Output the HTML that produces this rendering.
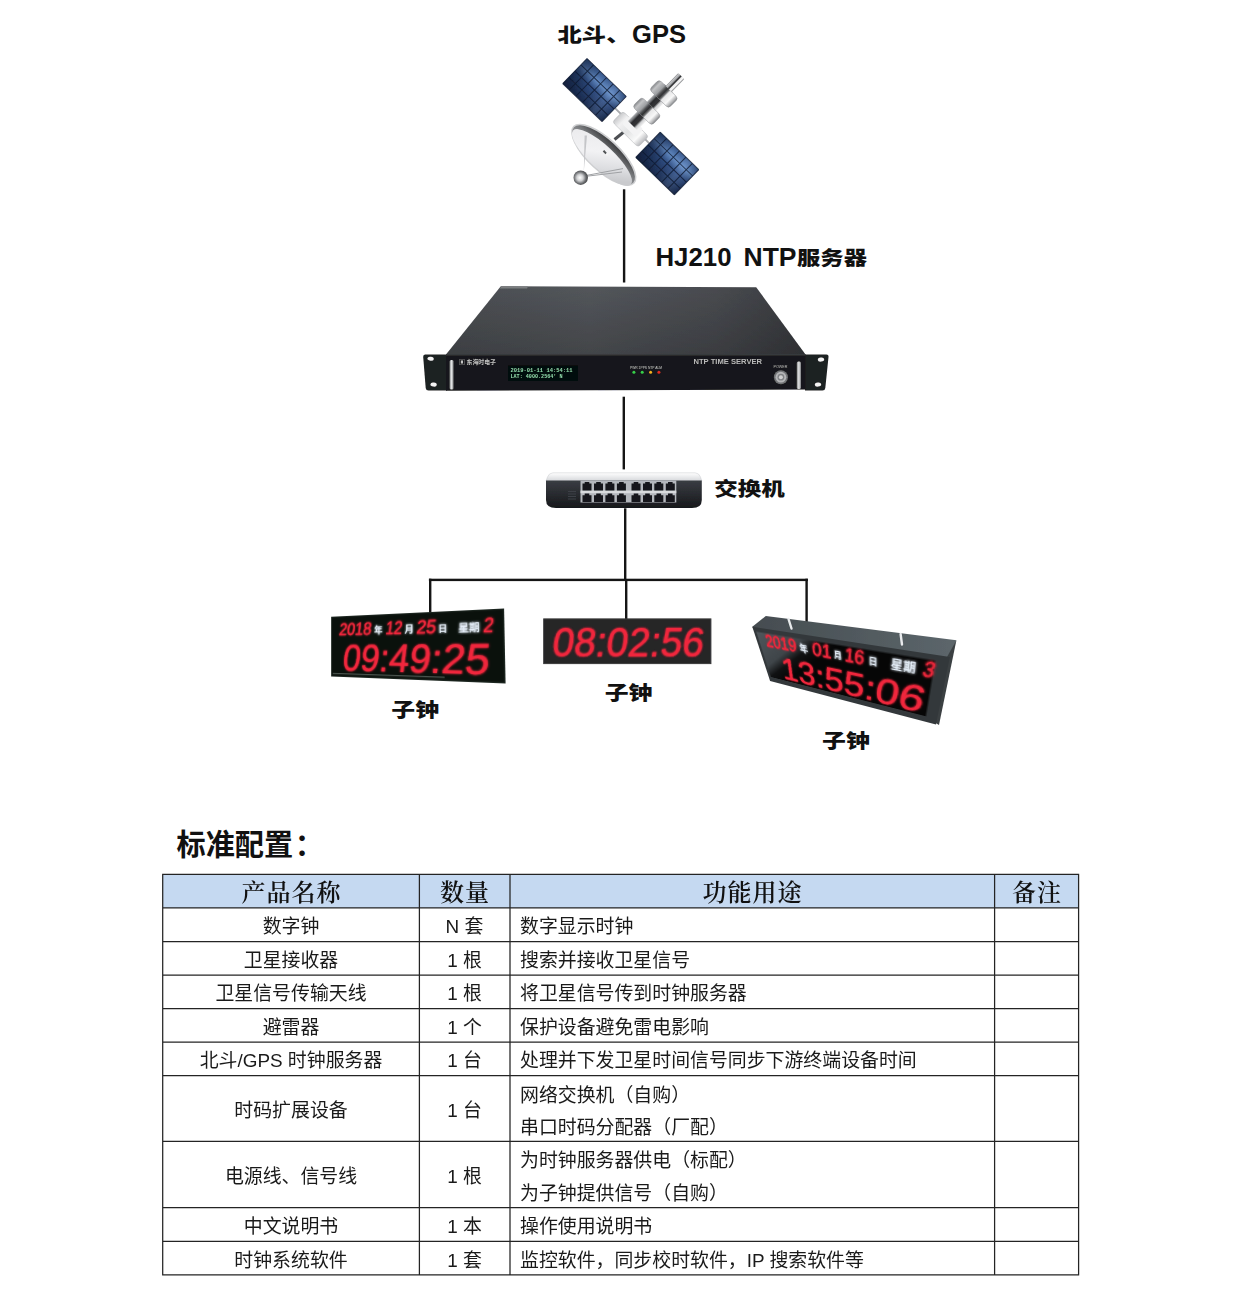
<!DOCTYPE html>
<html lang="zh-CN">
<head>
<meta charset="utf-8">
<title>标准配置</title>
<style>
html,body{margin:0;padding:0;background:#fff;}
body{width:1241px;height:1294px;position:relative;overflow:hidden;font-family:"Liberation Sans","Noto Sans CJK SC",sans-serif;color:#1a1a1a;}
#diagram{position:absolute;left:0;top:0;width:1241px;height:800px;}
.lbl{font-family:"Liberation Sans","Noto Sans CJK SC",sans-serif;font-weight:900;fill:#111;}
h2{position:absolute;left:176.5px;top:824px;margin:0;font-size:29.2px;line-height:42px;font-weight:700;color:#111;letter-spacing:0;white-space:nowrap;}
.pclk{position:absolute;left:0;top:0;transform-origin:0 0;}
.pclk svg{display:block;}
/* table */
#tbl{position:absolute;left:0;top:0;width:1241px;height:1294px;}
.hdbg{position:absolute;left:163px;top:874.5px;width:915.5px;height:33.4px;background:#c5d9f1;}
.th{position:absolute;top:877px;height:33px;line-height:32px;text-align:center;font-family:"Liberation Serif","Noto Serif CJK SC",serif;font-size:24px;letter-spacing:1px;text-indent:1px;color:#111;font-weight:600;}
.c{position:absolute;height:33px;line-height:33px;font-size:18.9px;white-space:nowrap;color:#1a1a1a;}
.c1{left:163px;width:256px;text-align:center;}
.c2{left:420px;width:89px;text-align:center;}
.c3{left:520px;width:470px;text-align:left;}
</style>
</head>
<body>
<svg id="diagram" width="1241" height="800" viewBox="0 0 1241 800">
<defs>
  <linearGradient id="gPanel" x1="0" y1="0" x2="1" y2="1">
    <stop offset="0" stop-color="#1a2c4a"/>
    <stop offset="0.35" stop-color="#2c4878"/>
    <stop offset="0.55" stop-color="#6b93c6"/>
    <stop offset="0.75" stop-color="#2f4e80"/>
    <stop offset="1" stop-color="#16243f"/>
  </linearGradient>
  <linearGradient id="gMetal" x1="0" y1="0" x2="0" y2="1">
    <stop offset="0" stop-color="#8d9094"/>
    <stop offset="0.25" stop-color="#f4f5f6"/>
    <stop offset="0.5" stop-color="#b9bcc0"/>
    <stop offset="0.78" stop-color="#f2f3f4"/>
    <stop offset="1" stop-color="#9fa2a6"/>
  </linearGradient>
  <linearGradient id="gDark" x1="0" y1="0" x2="0" y2="1">
    <stop offset="0" stop-color="#8a8d91"/>
    <stop offset="0.3" stop-color="#2b2d30"/>
    <stop offset="0.6" stop-color="#55585c"/>
    <stop offset="1" stop-color="#cfd1d4"/>
  </linearGradient>
  <linearGradient id="gDish" x1="0" y1="0" x2="1" y2="0">
    <stop offset="0" stop-color="#f3f3f4"/>
    <stop offset="0.6" stop-color="#e1e2e4"/>
    <stop offset="1" stop-color="#c3c5c8"/>
  </linearGradient>
  <linearGradient id="gRim" x1="0" y1="0" x2="0" y2="1">
    <stop offset="0" stop-color="#d9dadc"/>
    <stop offset="0.5" stop-color="#9c9ea2"/>
    <stop offset="1" stop-color="#6f7175"/>
  </linearGradient>
  <radialGradient id="gBall" cx="0.4" cy="0.35" r="0.7">
    <stop offset="0" stop-color="#fafafa"/>
    <stop offset="0.6" stop-color="#b5b7ba"/>
    <stop offset="1" stop-color="#77797d"/>
  </radialGradient>
  <linearGradient id="gTop" x1="0" y1="0" x2="1" y2="0">
    <stop offset="0" stop-color="#4b4e52"/>
    <stop offset="0.4" stop-color="#53565b"/>
    <stop offset="0.75" stop-color="#494b50"/>
    <stop offset="1" stop-color="#393b3f"/>
  </linearGradient>
  <linearGradient id="gTopV" x1="0" y1="0" x2="0" y2="1">
    <stop offset="0" stop-color="#000" stop-opacity="0"/>
    <stop offset="1" stop-color="#000" stop-opacity="0.2"/>
  </linearGradient>
  <linearGradient id="gHandle" x1="0" y1="0" x2="1" y2="0">
    <stop offset="0" stop-color="#8b8d90"/>
    <stop offset="0.5" stop-color="#e6e7e8"/>
    <stop offset="1" stop-color="#77797c"/>
  </linearGradient>
  <linearGradient id="gSwTop" x1="0" y1="0" x2="0" y2="1">
    <stop offset="0" stop-color="#ffffff"/>
    <stop offset="1" stop-color="#d5d7da"/>
  </linearGradient>
  <linearGradient id="gSwFront" x1="0" y1="0" x2="0" y2="1">
    <stop offset="0" stop-color="#3a3d43"/>
    <stop offset="1" stop-color="#17181b"/>
  </linearGradient>
  <linearGradient id="gC3" x1="0" y1="0" x2="1" y2="1">
    <stop offset="0" stop-color="#4a4f52"/>
    <stop offset="0.4" stop-color="#1c1e20"/>
    <stop offset="1" stop-color="#060606"/>
  </linearGradient>
  <filter id="soft" x="-5%" y="-5%" width="110%" height="110%"><feGaussianBlur stdDeviation="0.5"/></filter>
  <filter id="glow" x="-10%" y="-10%" width="120%" height="120%"><feGaussianBlur stdDeviation="0.35"/></filter>
</defs>

<!-- connection lines -->
<g fill="#151515">
  <rect x="622.9" y="189.3" width="2.4" height="93.2"/>
  <rect x="622.6" y="396.7" width="2.4" height="72.7"/>
  <rect x="624" y="508.3" width="2.4" height="72.6"/>
  <rect x="625" y="579" width="2.4" height="41"/>
  <rect x="428.9" y="578.7" width="379" height="2.4"/>
  <rect x="429" y="578.7" width="2.4" height="36.5"/>
  <rect x="805.4" y="578.7" width="2.4" height="43.3"/>
</g>

<!-- labels -->
<g class="lbl">
<text x="557.5" y="41.6" font-size="19.5" textLength="73" lengthAdjust="spacingAndGlyphs">北斗、</text>
<text x="632" y="43" font-size="25.2" textLength="54" lengthAdjust="spacingAndGlyphs">GPS</text>
<text x="655.5" y="266" font-size="25" textLength="76" lengthAdjust="spacingAndGlyphs">HJ210</text>
<text x="743.5" y="266" font-size="25" textLength="53" lengthAdjust="spacingAndGlyphs">NTP</text>
<text x="797" y="264.6" font-size="19.5" textLength="70" lengthAdjust="spacingAndGlyphs">服务器</text>
<text x="714.3" y="496.3" font-size="19.2" textLength="70.5" lengthAdjust="spacingAndGlyphs">交换机</text>
<text x="391.3" y="716.8" font-size="19.5" textLength="47.8" lengthAdjust="spacingAndGlyphs">子钟</text>
<text x="604.7" y="700" font-size="19.5" textLength="47.8" lengthAdjust="spacingAndGlyphs">子钟</text>
<text x="822" y="748" font-size="19.5" textLength="47.8" lengthAdjust="spacingAndGlyphs">子钟</text>
</g>

<defs>
<linearGradient id="gPan1" x1="0" y1="0" x2="0" y2="1"><stop offset="0" stop-color="#38598f"/><stop offset="0.26" stop-color="#668fc8"/><stop offset="0.5" stop-color="#2f4d82"/><stop offset="1" stop-color="#18284a"/></linearGradient>
<linearGradient id="gPanU" x1="0" y1="0" x2="1" y2="0"><stop offset="0" stop-color="#0d1830" stop-opacity="0.6"/><stop offset="0.4" stop-color="#0d1830" stop-opacity="0.05"/><stop offset="0.75" stop-color="#a8c6f0" stop-opacity="0.16"/><stop offset="1" stop-color="#0d1830" stop-opacity="0.3"/></linearGradient>
<linearGradient id="gCyl" x1="0" y1="0" x2="0" y2="1"><stop offset="0" stop-color="#85878a"/><stop offset="0.12" stop-color="#c2c3c5"/><stop offset="0.3" stop-color="#9d9fa2"/><stop offset="0.4" stop-color="#4c4d4f"/><stop offset="0.47" stop-color="#2e2f31"/><stop offset="0.54" stop-color="#6a6b6d"/><stop offset="0.6" stop-color="#e6e6e7"/><stop offset="0.8" stop-color="#f8f8f8"/><stop offset="0.93" stop-color="#b2b3b5"/><stop offset="1" stop-color="#7f8184"/></linearGradient>
<linearGradient id="gCore" x1="0" y1="0" x2="0" y2="1"><stop offset="0" stop-color="#b4b6b9"/><stop offset="0.18" stop-color="#6c6e71"/><stop offset="0.3" stop-color="#2a2b2d"/><stop offset="0.62" stop-color="#343537"/><stop offset="0.78" stop-color="#cfd0d2"/><stop offset="1" stop-color="#f2f2f2"/></linearGradient>
<linearGradient id="gHub" x1="0" y1="0" x2="0" y2="1"><stop offset="0" stop-color="#c9cacc"/><stop offset="0.2" stop-color="#f1f1f2"/><stop offset="0.5" stop-color="#e2e3e4"/><stop offset="0.8" stop-color="#fafafa"/><stop offset="1" stop-color="#b9babd"/></linearGradient>
<linearGradient id="gDishIn" x1="0" y1="0" x2="0" y2="1"><stop offset="0" stop-color="#3e3f41"/><stop offset="0.35" stop-color="#77797c"/><stop offset="1" stop-color="#b9babd"/></linearGradient>
<linearGradient id="gDishSurf" x1="0" y1="0" x2="1" y2="0.4"><stop offset="0" stop-color="#e9e9eb"/><stop offset="0.5" stop-color="#f2f2f4"/><stop offset="0.8" stop-color="#dcdde0"/><stop offset="1" stop-color="#c9cacd"/></linearGradient>
<radialGradient id="gBall2" cx="0.45" cy="0.5" r="0.55"><stop offset="0" stop-color="#ffffff"/><stop offset="0.4" stop-color="#d0d1d3"/><stop offset="0.75" stop-color="#6d6f72"/><stop offset="1" stop-color="#444547"/></radialGradient>
</defs>
<g id="sat" filter="url(#soft)">
<path d="M615 108.2L624.5 117.5M649 143.2L640 134" stroke="#a9abae" stroke-width="1.8" fill="none"/>
<g transform="translate(587.0,58.5) rotate(44.04)"><rect x="0" y="0" width="54.7" height="34.9" fill="url(#gPan1)"/><rect x="0" y="0" width="54.7" height="34.9" fill="url(#gPanU)"/><path d="M0.00 0V34.93M9.11 0V34.93M18.22 0V34.93M27.33 0V34.93M36.44 0V34.93M45.56 0V34.93M54.67 0V34.93M0 0.00H54.67M0 8.73H54.67M0 17.47H54.67M0 26.20H54.67M0 34.93H54.67" stroke="#0e1930" stroke-width="1" fill="none" opacity="0.8"/></g>
<g transform="translate(660.2,132.2) rotate(44.17)"><rect x="0" y="0" width="53.8" height="35.1" fill="url(#gPan1)"/><rect x="0" y="0" width="53.8" height="35.1" fill="url(#gPanU)"/><path d="M0.00 0V35.07M8.97 0V35.07M17.94 0V35.07M26.91 0V35.07M35.88 0V35.07M44.85 0V35.07M53.82 0V35.07M0 0.00H53.82M0 8.77H53.82M0 17.54H53.82M0 26.30H53.82M0 35.07H53.82" stroke="#0e1930" stroke-width="1" fill="none" opacity="0.8"/></g>
<path d="M614.5 139.5L625 131" stroke="#4e5053" stroke-width="3" fill="none"/>
<g transform="translate(603.8,154.8) rotate(43.1)">
<ellipse cx="0" cy="0" rx="42" ry="16.5" fill="#cfd0d2"/>
<ellipse cx="0" cy="0.3" rx="40.6" ry="15" fill="url(#gDishIn)"/>
<ellipse cx="0.5" cy="3.2" rx="39.6" ry="12" fill="url(#gDishSurf)"/>
</g>
<path d="M583.8 171.5L584.6 135.5L587 135.5Z" fill="#c4c5c8"/>
<path d="M587 175.3L623 168.6M587 176.2L622 172" stroke="#9fa1a4" stroke-width="1" fill="none"/>
<path d="M603.5 150.8L606.2 153.6" stroke="#505254" stroke-width="2" fill="none"/>
<path d="M606.2 153.6L607.8 155.2" stroke="#f4f4f4" stroke-width="2" fill="none"/>
<circle cx="580.7" cy="177.7" r="7.2" fill="url(#gBall2)"/>
<g transform="translate(629.8,128.5) rotate(-45.5)">
<rect x="-7.5" y="-17" width="15" height="36" rx="3" fill="url(#gHub)" stroke="#b4b6b9" stroke-width="0.5"/>
<rect x="-2" y="-9" width="11" height="19" rx="2" fill="#f3f3f4"/>
<rect x="4" y="-6.5" width="52" height="13" fill="url(#gCore)"/>
<rect x="17.5" y="-13.5" width="13.5" height="27" rx="3.5" fill="url(#gCyl)" stroke="#8e9093" stroke-width="0.5"/>
<rect x="41.5" y="-13.5" width="14" height="27" rx="3.5" fill="url(#gCyl)" stroke="#8e9093" stroke-width="0.5"/>
<rect x="55.5" y="-4.2" width="18" height="8.4" rx="1" fill="url(#gCyl)"/>
</g>
</g>
<g id="server" filter="url(#soft)">
  <!-- top face -->
  <polygon points="500.8,286.3 756.2,287.2 805.5,354.6 446,354.6" fill="url(#gTop)"/>
  <polygon points="500.8,286.3 756.2,287.2 805.5,354.6 446,354.6" fill="url(#gTopV)"/>
  <polygon points="501.5,286.3 528,286.4 527,288.6 499.8,288.5" fill="#7b7e80"/>
  <!-- ears -->
  <path d="M425 354.5H447V390.5H428.5Q426 390.5 425.7 388L423.2 357Q423 354.5 425 354.5Z" fill="#1f2022"/>
  <path d="M805 354.5H826.5Q828.8 354.5 828.5 357L825.3 388Q825 390.5 822.5 390.5H805Z" fill="#1f2022"/>
  <!-- front panel -->
  <polygon points="446,354.3 805.5,354.3 805.5,389.6 446,390.8" fill="#19191b"/>
  <rect x="446" y="354.3" width="359.5" height="1.2" fill="#3a3c3e"/>
  <!-- ear holes -->
  <ellipse cx="430.6" cy="358.8" rx="3.2" ry="2" fill="#f4f4f4" transform="rotate(8 430.6 358.8)"/>
  <ellipse cx="433.6" cy="384.6" rx="3.2" ry="2" fill="#f4f4f4" transform="rotate(8 433.6 384.6)"/>
  <ellipse cx="821" cy="359.6" rx="3.2" ry="2" fill="#f4f4f4" transform="rotate(-8 821 359.6)"/>
  <ellipse cx="818" cy="384.6" rx="3.2" ry="2" fill="#f4f4f4" transform="rotate(-8 818 384.6)"/>
  <!-- handles -->
  <rect x="449.6" y="360" width="4" height="29.5" rx="1.5" fill="url(#gHandle)"/>
  <rect x="796.8" y="361.5" width="4.2" height="27.5" rx="1.5" fill="url(#gHandle)"/>
  <!-- logo text -->
  <text x="459" y="363.6" font-family="'Liberation Sans','Noto Sans CJK SC',sans-serif" font-weight="700" font-size="6" fill="#c4c4c4" textLength="37" lengthAdjust="spacingAndGlyphs">▣ 东海时电子</text>
  <!-- lcd -->
  <rect x="508" y="365.2" width="70" height="15.8" fill="#050807"/>
  <text x="510.5" y="371.8" font-family="'Liberation Mono',monospace" font-weight="700" font-size="5.6" fill="#8fe0b0" textLength="62" lengthAdjust="spacingAndGlyphs">2019-01-11 14:54:11</text>
  <text x="510.5" y="378.2" font-family="'Liberation Mono',monospace" font-weight="700" font-size="5.6" fill="#8fe0b0" textLength="52" lengthAdjust="spacingAndGlyphs">LAT: 4000.2564' N</text>
  <!-- leds -->
  <text x="630" y="368.8" font-family="'Liberation Sans',sans-serif" font-size="3.2" fill="#cfd0d0" textLength="32" lengthAdjust="spacingAndGlyphs">PWR 1PPS NTP ALM</text>
  <circle cx="633.9" cy="372.2" r="1.5" fill="#35d04a"/>
  <circle cx="642.2" cy="372.2" r="1.5" fill="#35d04a"/>
  <circle cx="650.6" cy="372.2" r="1.5" fill="#f5b21a"/>
  <circle cx="658.9" cy="372.2" r="1.5" fill="#e02b20"/>
  <!-- title -->
  <text x="693.5" y="363.8" font-family="'Liberation Sans',sans-serif" font-weight="700" font-size="6.6" fill="#b9b9b9" textLength="68.5" lengthAdjust="spacingAndGlyphs">NTP  TIME  SERVER</text>
  <!-- button -->
  <text x="773.5" y="367.6" font-family="'Liberation Sans',sans-serif" font-size="3" fill="#bdbdbd" textLength="14" lengthAdjust="spacingAndGlyphs">POWER</text>
  <circle cx="780.9" cy="377.2" r="7" fill="#727477"/>
  <circle cx="780.9" cy="377.2" r="5.4" fill="#b4b5b7"/>
  <circle cx="780.9" cy="377.2" r="3.4" fill="#808285"/>
  <circle cx="780.9" cy="377.2" r="2" fill="#cfcfd0"/>
</g>

<g id="switch" filter="url(#soft)">
<path d="M553 472.8H695Q699 473 700.5 477L701.8 481H546L547.5 477Q549 473 553 472.8Z" fill="url(#gSwTop)" stroke="#c9cbce" stroke-width="0.5"/>
<path d="M546 480.5H701.8V500Q701.8 508 692 508H556Q546 508 546 500Z" fill="url(#gSwFront)"/>
<rect x="580.5" y="480.5" width="95.8" height="22" fill="#b4b7bd"/>
<rect x="580.5" y="490.6" width="95.8" height="2.6" fill="#d9dbde"/>
<path d="M582.5 483.6h2.2v-1.6h4.6v1.6h2.2v6.8h-9z" fill="#15171a"/>
<path d="M582.5 495.2h2.2v-1.6h4.6v1.6h2.2v6.8h-9z" fill="#15171a"/>
<path d="M594.0 483.6h2.2v-1.6h4.6v1.6h2.2v6.8h-9z" fill="#15171a"/>
<path d="M594.0 495.2h2.2v-1.6h4.6v1.6h2.2v6.8h-9z" fill="#15171a"/>
<path d="M605.4 483.6h2.2v-1.6h4.6v1.6h2.2v6.8h-9z" fill="#15171a"/>
<path d="M605.4 495.2h2.2v-1.6h4.6v1.6h2.2v6.8h-9z" fill="#15171a"/>
<path d="M616.9 483.6h2.2v-1.6h4.6v1.6h2.2v6.8h-9z" fill="#15171a"/>
<path d="M616.9 495.2h2.2v-1.6h4.6v1.6h2.2v6.8h-9z" fill="#15171a"/>
<path d="M631.5 483.6h2.2v-1.6h4.6v1.6h2.2v6.8h-9z" fill="#15171a"/>
<path d="M631.5 495.2h2.2v-1.6h4.6v1.6h2.2v6.8h-9z" fill="#15171a"/>
<path d="M643.0 483.6h2.2v-1.6h4.6v1.6h2.2v6.8h-9z" fill="#15171a"/>
<path d="M643.0 495.2h2.2v-1.6h4.6v1.6h2.2v6.8h-9z" fill="#15171a"/>
<path d="M654.3 483.6h2.2v-1.6h4.6v1.6h2.2v6.8h-9z" fill="#15171a"/>
<path d="M654.3 495.2h2.2v-1.6h4.6v1.6h2.2v6.8h-9z" fill="#15171a"/>
<path d="M665.8 483.6h2.2v-1.6h4.6v1.6h2.2v6.8h-9z" fill="#15171a"/>
<path d="M665.8 495.2h2.2v-1.6h4.6v1.6h2.2v6.8h-9z" fill="#15171a"/>
<path d="M568 491.5h8M568 494h8M568 496.5h8M568 499h8" stroke="#3d4046" stroke-width="1"/>
</g>
<defs><filter id="rg2" x="-10%" y="-20%" width="120%" height="140%"><feGaussianBlur in="SourceGraphic" stdDeviation="1.1" result="b"/><feMerge><feMergeNode in="b"/><feMergeNode in="SourceGraphic"/></feMerge></filter><linearGradient id="gC3top" x1="0" y1="0" x2="1" y2="0"><stop offset="0" stop-color="#454c50"/><stop offset="1" stop-color="#5c666b"/></linearGradient></defs>
<g id="clock2" filter="url(#soft)">
<rect x="543.7" y="618.9" width="167.2" height="44.7" fill="#252526"/>
<rect x="543.7" y="618.9" width="167.2" height="44.7" fill="none" stroke="#3a3a3b" stroke-width="1"/>
<g transform="translate(92.19,0) skewX(-8)"><text x="551" y="656.5" font-family="'Liberation Sans',sans-serif" font-size="43" fill="#f0283c" stroke="#f0283c" stroke-width="0.2" filter="url(#rg2)" textLength="151.5" lengthAdjust="spacingAndGlyphs">08:02:56</text></g>
</g>
<g id="clock3body" filter="url(#soft)">
<polygon points="752.3,626.8 765.8,616.1 956.4,640.3 950,657 948,660 754,630" fill="url(#gC3top)"/>
<polygon points="947,657 956.4,640.3 939,725 934,722" fill="#3b4043"/>
<path d="M788.5 619L791.5 628.5M900.6 634L902 644.5" stroke="#e8eaec" stroke-width="2.4" stroke-linecap="round"/>
</g>

</svg>

<!--PCLK-->
<div class="pclk" style="width:174px;height:64px;transform:matrix3d(0.405064,-0.759370,0,-0.00116879,-0.035427,0.860429,0,-0.00010700,0,0,1,0,331.1000,616.8000,0,1)">
<svg width="174" height="64" viewBox="0 0 174 64"><defs><filter id="rg0" x="-10%" y="-20%" width="120%" height="140%"><feGaussianBlur in="SourceGraphic" stdDeviation="1.1" result="b"/><feMerge><feMergeNode in="b"/><feMergeNode in="SourceGraphic"/></feMerge></filter></defs>
<rect x="0" y="0" width="174" height="64" fill="#0a110c"/>
<rect x="0.6" y="0.6" width="172.8" height="62.8" fill="none" stroke="#1c2620" stroke-width="1.2"/>
<rect x="2" y="60.2" width="120" height="1" fill="#6f7a73" opacity="0.8"/>
<g filter="url(#rg0)"><g transform="translate(2.81,0) skewX(-8)"><text x="9.6" y="20.0" font-family="'Liberation Sans','Noto Sans CJK SC',sans-serif" font-size="18.0" fill="#f0283c" stroke="#f0283c" stroke-width="0.35" font-weight="400" textLength="37.8" lengthAdjust="spacingAndGlyphs">2018</text></g>
<text x="50.9" y="18.6" font-family="'Liberation Sans','Noto Sans CJK SC',sans-serif" font-size="9.4" fill="#e4edf7" font-weight="700">年</text>
<g transform="translate(2.81,0) skewX(-8)"><text x="63.0" y="20.0" font-family="'Liberation Sans','Noto Sans CJK SC',sans-serif" font-size="18.0" fill="#f0283c" stroke="#f0283c" stroke-width="0.35" font-weight="400" textLength="17.6" lengthAdjust="spacingAndGlyphs">12</text></g>
<text x="83.6" y="18.6" font-family="'Liberation Sans','Noto Sans CJK SC',sans-serif" font-size="9.4" fill="#e4edf7" font-weight="700">月</text>
<g transform="translate(2.81,0) skewX(-8)"><text x="95.1" y="20.0" font-family="'Liberation Sans','Noto Sans CJK SC',sans-serif" font-size="18.0" fill="#f0283c" stroke="#f0283c" stroke-width="0.35" font-weight="400" textLength="18.8" lengthAdjust="spacingAndGlyphs">25</text></g>
<text x="116.6" y="18.6" font-family="'Liberation Sans','Noto Sans CJK SC',sans-serif" font-size="8.6" fill="#e4edf7" font-weight="700">日</text>
<text x="134.9" y="18.6" font-family="'Liberation Sans','Noto Sans CJK SC',sans-serif" font-size="9.6" fill="#e4edf7" font-weight="700" textLength="18.8" lengthAdjust="spacingAndGlyphs">星期</text>
<g transform="translate(2.81,0) skewX(-8)"><text x="156.2" y="20.0" font-family="'Liberation Sans','Noto Sans CJK SC',sans-serif" font-size="18.0" fill="#f0283c" stroke="#f0283c" stroke-width="0.35" font-weight="400" textLength="8.4" lengthAdjust="spacingAndGlyphs">2</text></g>
<g transform="translate(8.01,0) skewX(-8)"><text x="13.2" y="57.0" font-family="'Liberation Sans','Noto Sans CJK SC',sans-serif" font-size="38.4" fill="#f0283c" stroke="#f0283c" stroke-width="0.2" font-weight="400" textLength="147.0" lengthAdjust="spacingAndGlyphs">09:49:25</text></g></g>
</svg></div>
<div class="pclk" style="width:190px;height:62px;transform:matrix3d(-0.487819,-0.898024,0,-0.00160878,2.347572,2.694393,0,0.00267559,0,0,1,0,752.3000,626.8000,0,1)">
<svg width="190" height="62" viewBox="0 0 190 62"><defs><filter id="rg1" x="-10%" y="-20%" width="120%" height="140%"><feGaussianBlur in="SourceGraphic" stdDeviation="1.1" result="b"/><feMerge><feMergeNode in="b"/><feMergeNode in="SourceGraphic"/></feMerge></filter></defs>
<defs><linearGradient id="gRef" gradientUnits="userSpaceOnUse" x1="0" y1="0" x2="33.7" y2="49.7"><stop offset="0" stop-color="#535a5f"/><stop offset="0.62" stop-color="#3f4549"/><stop offset="0.8" stop-color="#101112"/><stop offset="1" stop-color="#060606"/></linearGradient></defs>
<rect x="0" y="0" width="190" height="62" fill="#33383b"/>
<rect x="3.5" y="4.5" width="177" height="51.5" fill="url(#gRef)"/>
<g filter="url(#rg1)"><g transform="translate(2.57,0) skewX(-8)"><text x="12.2" y="18.3" font-family="'Liberation Sans','Noto Sans CJK SC',sans-serif" font-size="17.9" fill="#f0283c" stroke="#f0283c" stroke-width="0.35" font-weight="400" textLength="39.1" lengthAdjust="spacingAndGlyphs">2019</text></g>
<text x="55.7" y="17.0" font-family="'Liberation Sans','Noto Sans CJK SC',sans-serif" font-size="9.6" fill="#e4edf7" font-weight="700">年</text>
<g transform="translate(2.57,0) skewX(-8)"><text x="69.6" y="18.3" font-family="'Liberation Sans','Noto Sans CJK SC',sans-serif" font-size="17.9" fill="#f0283c" stroke="#f0283c" stroke-width="0.35" font-weight="400" textLength="21.1" lengthAdjust="spacingAndGlyphs">01</text></g>
<text x="93.6" y="17.0" font-family="'Liberation Sans','Noto Sans CJK SC',sans-serif" font-size="8.4" fill="#e4edf7" font-weight="700">月</text>
<g transform="translate(2.57,0) skewX(-8)"><text x="104.0" y="18.3" font-family="'Liberation Sans','Noto Sans CJK SC',sans-serif" font-size="17.9" fill="#f0283c" stroke="#f0283c" stroke-width="0.35" font-weight="400" textLength="18.8" lengthAdjust="spacingAndGlyphs">16</text></g>
<text x="127.4" y="17.0" font-family="'Liberation Sans','Noto Sans CJK SC',sans-serif" font-size="8.0" fill="#e4edf7" font-weight="700">日</text>
<text x="147.1" y="17.0" font-family="'Liberation Sans','Noto Sans CJK SC',sans-serif" font-size="10.0" fill="#e4edf7" font-weight="700" textLength="20.2" lengthAdjust="spacingAndGlyphs">星期</text>
<g transform="translate(2.57,0) skewX(-8)"><text x="172.3" y="18.3" font-family="'Liberation Sans','Noto Sans CJK SC',sans-serif" font-size="17.9" fill="#f0283c" stroke="#f0283c" stroke-width="0.35" font-weight="400" textLength="8.4" lengthAdjust="spacingAndGlyphs">3</text></g>
<g transform="translate(7.52,0) skewX(-8)"><text x="23.0" y="53.5" font-family="'Liberation Sans','Noto Sans CJK SC',sans-serif" font-size="37.0" fill="#f0283c" stroke="#f0283c" stroke-width="0.2" font-weight="400" textLength="152.7" lengthAdjust="spacingAndGlyphs">13:55:06</text></g></g>
</svg></div>
<!--/PCLK-->

<h2>标准配置<span style="margin-left:1.5px">：</span></h2>

<div id="tbl">
<div class="hdbg"></div>
<svg id="grid" width="1241" height="1294" viewBox="0 0 1241 1294" style="position:absolute;left:0;top:0"><path d="M162.1 874.4H1079.2M162.1 907.9H1079.2M162.1 941.5H1079.2M162.1 975.1H1079.2M162.1 1008.6H1079.2M162.1 1042.2H1079.2M162.1 1075.7H1079.2M162.1 1141.4H1079.2M162.1 1207.5H1079.2M162.1 1241.4H1079.2M162.1 1274.9H1079.2M162.7 874.4V1274.9M419.4 874.4V1274.9M510.0 874.4V1274.9M994.6 874.4V1274.9M1078.6 874.4V1274.9" stroke="#242424" stroke-width="1.25" fill="none"/></svg>

<div class="th" style="left:163px;width:256px">产品名称</div>
<div class="th" style="left:420px;width:89px">数量</div>
<div class="th" style="left:510px;width:484px">功能用途</div>
<div class="th" style="left:995px;width:83px">备注</div>

<div class="c c1" style="top:910.2px">数字钟</div>
<div class="c c2" style="top:910.2px">N 套</div>
<div class="c c3" style="top:910.2px">数字显示时钟</div>

<div class="c c1" style="top:943.6px">卫星接收器</div>
<div class="c c2" style="top:943.6px">1 根</div>
<div class="c c3" style="top:943.6px">搜索并接收卫星信号</div>

<div class="c c1" style="top:977.2px">卫星信号传输天线</div>
<div class="c c2" style="top:977.2px">1 根</div>
<div class="c c3" style="top:977.2px">将卫星信号传到时钟服务器</div>

<div class="c c1" style="top:1010.5px">避雷器</div>
<div class="c c2" style="top:1010.5px">1 个</div>
<div class="c c3" style="top:1010.5px">保护设备避免雷电影响</div>

<div class="c c1" style="top:1044.2px">北斗/GPS 时钟服务器</div>
<div class="c c2" style="top:1044.2px">1 台</div>
<div class="c c3" style="top:1044.2px">处理并下发卫星时间信号同步下游终端设备时间</div>

<div class="c c1" style="top:1094px">时码扩展设备</div>
<div class="c c2" style="top:1094px">1 台</div>
<div class="c c3" style="top:1078.6px">网络交换机（自购）</div>
<div class="c c3" style="top:1111.1px">串口时码分配器（厂配）</div>

<div class="c c1" style="top:1160px">电源线、信号线</div>
<div class="c c2" style="top:1160px">1 根</div>
<div class="c c3" style="top:1144.1px">为时钟服务器供电（标配）</div>
<div class="c c3" style="top:1176.5px">为子钟提供信号（自购）</div>

<div class="c c1" style="top:1210px">中文说明书</div>
<div class="c c2" style="top:1210px">1 本</div>
<div class="c c3" style="top:1210px">操作使用说明书</div>

<div class="c c1" style="top:1243.6px">时钟系统软件</div>
<div class="c c2" style="top:1243.6px">1 套</div>
<div class="c c3" style="top:1243.6px">监控软件，同步校时软件，IP 搜索软件等</div>
</div>
</body>
</html>
